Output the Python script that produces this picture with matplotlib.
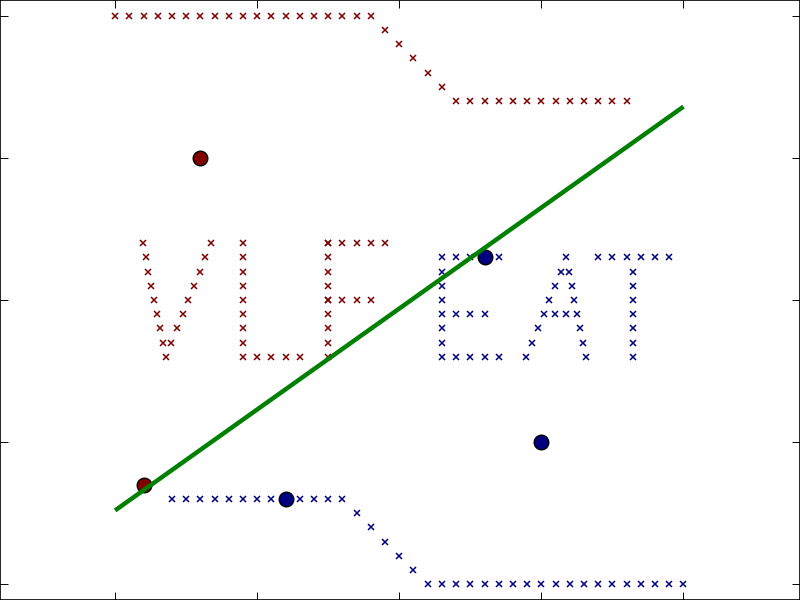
import matplotlib
matplotlib.use("Agg")
import matplotlib.pyplot as plt

# ---- data (grid units) ----
# red class (label +1) crosses
red_top_x = [0, 1, 2, 3, 4, 5, 6, 7, 8, 9, 10, 11, 12, 13, 14, 15, 16, 17, 18]
red_top_y = [40] * 19
red_diag_x = [19, 20, 21, 22, 23]
red_diag_y = [39, 38, 37, 36, 35]
red_mid_x = [24, 25, 26, 27, 28, 29, 30, 31, 32, 33, 34, 35, 36]
red_mid_y = [34] * 13
# letters V L F
V_left_x = [1.95, 2.15, 2.35, 2.55, 2.75, 2.95, 3.15, 3.35, 3.55]
V_left_y = [24, 23, 22, 21, 20, 19, 18, 17, 16]
V_right_x = [6.75, 6.35, 5.95, 5.55, 5.15, 4.75, 4.35, 3.95]
V_right_y = [24, 23, 22, 21, 20, 19, 18, 17]
L_x = [9, 9, 9, 9, 9, 9, 9, 9, 9, 10, 11, 12, 13]
L_y = [24, 23, 22, 21, 20, 19, 18, 17, 16, 16, 16, 16, 16]
F_x = [15, 15, 15, 15, 15, 15, 15, 15, 15, 15, 16, 17, 18, 19, 15, 16, 17, 18]
F_y = [24, 23, 22, 21, 20, 19, 18, 17, 16, 24, 24, 24, 24, 24, 20, 20, 20, 20]

# blue class (label -1) crosses
blue_low_x = [4, 5, 6, 7, 8, 9, 10, 11, 12, 13, 14, 15, 16]
blue_low_y = [6] * 13
blue_diag_x = [17, 18, 19, 20, 21]
blue_diag_y = [5, 4, 3, 2, 1]
blue_bot_x = [22, 23, 24, 25, 26, 27, 28, 29, 30, 31, 32, 33, 34, 35, 36, 37, 38, 39, 40]
blue_bot_y = [0] * 19
# letters E A T
E_x = [23, 23, 23, 23, 23, 23, 23, 23, 24, 25, 26, 27, 24, 25, 26, 24, 25, 26, 27]
E_y = [23, 22, 21, 20, 19, 18, 17, 16, 23, 23, 23, 23, 19, 19, 19, 16, 16, 16, 16]
A_left_x = [28.95, 29.35, 29.75, 30.15, 30.55, 30.95, 31.35, 31.72]
A_left_y = [16, 17, 18, 19, 20, 21, 22, 23]
A_right_x = [33.12, 32.92, 32.72, 32.52, 32.32, 32.12, 31.95]
A_right_y = [16, 17, 18, 19, 20, 21, 22]
A_bar_x = [30.95, 31.72]
A_bar_y = [19, 19]
T_x = [34, 35, 36, 37, 38, 39, 36.45, 36.45, 36.45, 36.45, 36.45, 36.45, 36.45]
T_y = [23, 23, 23, 23, 23, 23, 22, 21, 20, 19, 18, 17, 16]

# support vectors
sv_red_x = [6, 2]
sv_red_y = [30, 7]
sv_blue_x = [26, 12, 30]
sv_blue_y = [23, 6, 10]

# decision line
line_x = [0, 40]
line_y = [5.2, 33.6]

ticks = [0, 10, 20, 30, 40]

RED = "#800000"
BLUE = "#000080"

fig = plt.figure(figsize=(8, 6), dpi=100)
ax = fig.add_axes([0, 0, 1, 1])

red_x = red_top_x + red_diag_x + red_mid_x + V_left_x + V_right_x + L_x + F_x
red_y = red_top_y + red_diag_y + red_mid_y + V_left_y + V_right_y + L_y + F_y
blue_x = blue_low_x + blue_diag_x + blue_bot_x + E_x + A_left_x + A_right_x + A_bar_x + T_x
blue_y = blue_low_y + blue_diag_y + blue_bot_y + E_y + A_left_y + A_right_y + A_bar_y + T_y

ax.plot(red_x, red_y, "x", color=RED, ms=5, mew=1.1, linestyle="none")
ax.plot(blue_x, blue_y, "x", color=BLUE, ms=5, mew=1.1, linestyle="none")

ax.plot(sv_red_x, sv_red_y, "o", ms=10.5, mfc=RED, mec="black", mew=1.0, linestyle="none")
ax.plot(sv_blue_x, sv_blue_y, "o", ms=10.5, mfc=BLUE, mec="black", mew=1.0, linestyle="none")

ax.plot(line_x, line_y, "-", color="#008000", lw=3.2, solid_capstyle="butt")

ax.set_xlim(-8.1, 48.2)
ax.set_ylim(-1.1, 41.1)
ax.set_xticks(ticks)
ax.set_yticks(ticks)
ax.tick_params(direction="in", length=5.5, width=0.7, top=True, right=True,
               labelleft=False, labelbottom=False, colors="black")
for s in ax.spines.values():
    s.set_linewidth(1.2)
    s.set_color("black")

fig.savefig("out.png", dpi=100)
